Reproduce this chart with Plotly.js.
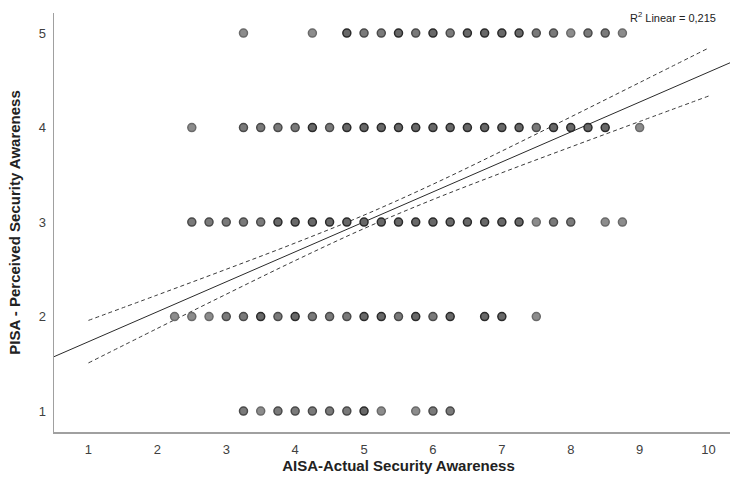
<!DOCTYPE html>
<html>
<head>
<meta charset="utf-8">
<script src="https://cdn.plot.ly/plotly-3.0.1.min.js"></script>
<style>
  html, body { margin: 0; padding: 0; overflow: hidden; background: #fff; }
  #chart { width: 746px; height: 485px; }
</style>
</head>
<body>
<div id="chart"></div>
<script>
// AISA scores (x) observed at each PISA level, with how many cases share each point
const aisa5 = [3.25, 4.25, 4.75, 5, 5.25, 5.5, 5.75, 6, 6.25, 6.5, 6.75, 7, 7.25, 7.5, 7.75, 8, 8.25, 8.5, 8.75];
const n5    = [1, 1, 3, 2, 2, 3, 2, 3, 2, 3, 3, 3, 3, 2, 2, 1, 2, 2, 1];

const aisa4 = [2.5, 3.25, 3.5, 3.75, 4, 4.25, 4.5, 4.75, 5, 5.25, 5.5, 5.75, 6, 6.25, 6.5, 6.75, 7, 7.25, 7.5, 7.75, 8, 8.25, 8.5, 9];
const n4    = [1, 2, 2, 2, 2, 3, 2, 3, 3, 3, 3, 3, 3, 3, 3, 3, 3, 3, 2, 3, 3, 3, 3, 1];

const aisa3 = [2.5, 2.75, 3, 3.25, 3.5, 3.75, 4, 4.25, 4.5, 4.75, 5, 5.25, 5.5, 5.75, 6, 6.25, 6.5, 6.75, 7, 7.25, 7.5, 7.75, 8, 8.5, 8.75];
const n3    = [2, 2, 2, 2, 2, 3, 3, 3, 3, 3, 3, 3, 3, 3, 3, 3, 3, 3, 3, 3, 1, 2, 2, 1, 1];

const aisa2 = [2.25, 2.5, 2.75, 3, 3.25, 3.5, 3.75, 4, 4.25, 4.5, 4.75, 5, 5.25, 5.5, 5.75, 6, 6.25, 6.75, 7, 7.5];
const n2    = [1, 1, 1, 2, 2, 3, 2, 3, 2, 2, 2, 3, 3, 2, 3, 2, 3, 3, 3, 1];

const aisa1 = [3.25, 3.5, 3.75, 4, 4.25, 4.5, 4.75, 5, 5.25, 5.75, 6, 6.25];
const n1    = [2, 1, 2, 2, 2, 2, 2, 3, 1, 1, 2, 2];

// Linear fit line and the 95% confidence band of the mean
const fitX = [0.5, 10.5];
const fitY = [1.575, 4.745];
const ciX     = [1, 2, 3, 4, 5, 6, 7, 8, 9, 10];
const ciUpper = [1.959, 2.228, 2.500, 2.778, 3.073, 3.400, 3.751, 4.112, 4.476, 4.841];
const ciLower = [1.509, 1.874, 2.236, 2.592, 2.931, 3.238, 3.521, 3.794, 4.064, 4.333];

const xTicks = [1, 2, 3, 4, 5, 6, 7, 8, 9, 10];
const yTicks = [1, 2, 3, 4, 5];
const r2Label = 'R<sup>2</sup> Linear = 0,215';

// Shade of a point grows with the number of overlapping cases
const fillByCount = { 1: '#8c8c8c', 2: '#7a7a7a', 3: '#686868' };
const edgeByCount = { 1: '#6a6a6a', 2: '#4a4a4a', 3: '#2a2a2a' };

const rows = [[aisa1, n1, 1], [aisa2, n2, 2], [aisa3, n3, 3], [aisa4, n4, 4], [aisa5, n5, 5]];
const px = [], py = [], pFill = [], pEdge = [];
rows.forEach(([xs, ns, level]) => {
  xs.forEach((v, i) => {
    px.push(v);
    py.push(level);
    pFill.push(fillByCount[ns[i]]);
    pEdge.push(edgeByCount[ns[i]]);
  });
});

const traces = [
  {
    x: ciX, y: ciUpper, mode: 'lines', type: 'scatter', hoverinfo: 'skip',
    line: { color: '#3a3a3a', width: 1, dash: '4px,3px', shape: 'spline' }
  },
  {
    x: ciX, y: ciLower, mode: 'lines', type: 'scatter', hoverinfo: 'skip',
    line: { color: '#3a3a3a', width: 1, dash: '4px,3px', shape: 'spline' }
  },
  {
    x: fitX, y: fitY, mode: 'lines', type: 'scatter', hoverinfo: 'skip',
    line: { color: '#2a2a2a', width: 1 }
  },
  {
    x: px, y: py, mode: 'markers', type: 'scatter',
    marker: { size: 8, color: pFill, line: { color: pEdge, width: 1.5 } }
  }
];

const tickFont = { family: "'Liberation Sans Narrow', 'Arial Narrow', 'Liberation Sans', sans-serif", size: 13, color: '#404040' };
const titleFont = { family: "'Liberation Sans', Arial, sans-serif", size: 15, color: '#222', weight: 'bold' };

const layout = {
  width: 746, height: 485,
  margin: { l: 54, r: 3, t: 13, b: 53 },
  paper_bgcolor: '#fff', plot_bgcolor: '#fff',
  showlegend: false,
  xaxis: {
    range: [0.5, 10.5], tickvals: xTicks, ticks: '', showgrid: false, zeroline: false,
    showline: true, linecolor: '#a0a0a0', linewidth: 1.5,
    tickfont: tickFont, ticklabelstandoff: 5,
    title: { text: 'AISA-Actual Security Awareness', font: titleFont, standoff: 4 }
  },
  yaxis: {
    range: [0.778, 5.212], tickvals: yTicks, ticks: '', showgrid: false, zeroline: false,
    showline: true, linecolor: '#a0a0a0', linewidth: 1.5,
    tickfont: tickFont, ticklabelstandoff: 4,
    title: { text: 'PISA - Perceived Security Awareness', font: titleFont, standoff: 14 }
  },
  annotations: [{
    text: r2Label, xref: 'paper', yref: 'paper', x: 0.9637, y: 0.9905,
    xanchor: 'right', yanchor: 'middle', showarrow: false,
    font: { family: "'Liberation Sans', Arial, sans-serif", size: 11, color: '#222' }
  }]
};

Plotly.newPlot('chart', traces, layout, { displayModeBar: false, staticPlot: true });
</script>
</body>
</html>
